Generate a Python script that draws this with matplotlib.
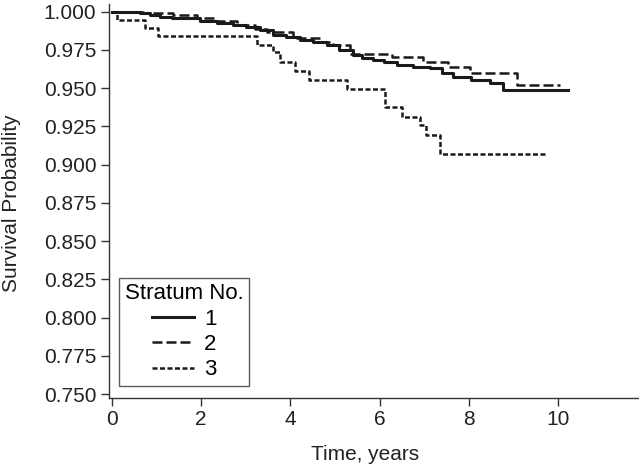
import matplotlib
matplotlib.use("Agg")
import matplotlib.pyplot as plt

plt.rcParams['font.family'] = ['Liberation Sans', 'DejaVu Sans']

# Stratum 1 (solid)
t1 = [0.0, 0.3, 0.63, 0.85, 1.08, 1.35, 1.60, 1.98, 2.35, 2.72, 3.0, 3.32, 3.61, 3.9, 4.22,
      4.5, 4.82, 5.1, 5.40, 5.6, 5.85, 6.1, 6.39, 6.75, 7.13, 7.4, 7.64, 8.05, 8.47, 8.76, 10.22]
s1 = [1.000, 0.9995, 0.9990, 0.9980, 0.9967, 0.9962, 0.9957, 0.9941, 0.9927, 0.9913, 0.9897,
      0.9880, 0.9848, 0.9832, 0.9815, 0.9800, 0.9783, 0.9750, 0.9717, 0.9700, 0.9684, 0.9668,
      0.9651, 0.9640, 0.9630, 0.9600, 0.9575, 0.9555, 0.9531, 0.9488, 0.9488]

# Stratum 2 (dashed)
t2 = [0.0, 0.3, 0.7, 1.38, 1.9, 2.3, 2.8, 3.2, 3.48, 4.07, 4.67, 4.95, 5.34, 6.28, 6.97,
      7.53, 8.02, 9.08, 10.04]
s2 = [1.000, 0.9995, 0.9993, 0.998, 0.996, 0.994, 0.991, 0.989, 0.9865, 0.9828, 0.9804,
      0.9782, 0.9723, 0.9702, 0.9673, 0.9640, 0.9599, 0.9520, 0.9520]

# Stratum 3 (dotted)
t3 = [0.0, 0.12, 0.75, 1.04, 3.25, 3.61, 3.77, 4.10, 4.42, 5.27, 6.12, 6.50, 6.90, 7.04, 7.35, 9.70]
s3 = [1.000, 0.9946, 0.9893, 0.9841, 0.9782, 0.9736, 0.9671, 0.9612, 0.9552, 0.9494, 0.9376,
      0.9311, 0.9258, 0.9192, 0.9068, 0.9068]

strata = ['1', '2', '3']
yticks = [0.750, 0.775, 0.800, 0.825, 0.850, 0.875, 0.900, 0.925, 0.950, 0.975, 1.000]
xticks = [0, 2, 4, 6, 8, 10]

W, H = 639, 466
fig = plt.figure(figsize=(W / 100, H / 100), dpi=100)
ax = fig.add_axes([108.5 / W, (H - 398) / H, (638 - 108.5) / W, (398 - 4) / H])

col = '#1a1a1a'
ax.step(t1, s1, where='post', color=col, lw=2.2, linestyle='-', label=strata[0])
ax.step(t2, s2, where='post', color=col, lw=1.8, linestyle=(0, (4.0, 1.6)), label=strata[1])
ax.step(t3, s3, where='post', color=col, lw=1.8, linestyle=(0, (2.0, 1.0)), label=strata[2])

ax.set_xlim(-0.072, 11.79)
ax.set_ylim(0.7474, 1.00504)
ax.set_yticks(yticks)
ax.set_yticklabels([f"{v:.3f}" for v in yticks])
ax.set_xticks(xticks)
ax.set_xticklabels([str(v) for v in xticks])

for s in ['top', 'right']:
    ax.spines[s].set_visible(False)
for s in ['left', 'bottom']:
    ax.spines[s].set_color('#333333')
    ax.spines[s].set_linewidth(1.0)
ax.tick_params(axis='both', direction='out', length=5.8, width=1.0, color='#333333',
               labelsize=15, labelcolor='#222222', pad=3)

fig.text(365 / W, 1 - 455 / H, 'Time, years', fontsize=15, color='#222222',
         ha='center', va='center')
fig.text(12 / W, 1 - 203 / H, 'Survival Probability', fontsize=15, color='#222222',
         ha='center', va='center', rotation=90)

leg = ax.legend(title='Stratum No.', loc='lower left', bbox_to_anchor=(0.0198, 0.0305),
                borderaxespad=0, fontsize=16, title_fontsize=16, frameon=True,
                fancybox=False, handlelength=1.9, handletextpad=0.45,
                labelspacing=0.2, borderpad=0.25)
leg.get_frame().set_edgecolor('#333333')
leg.get_frame().set_linewidth(1.0)
leg._legend_box.align = 'center'

fig.savefig('out.png', dpi=100)
